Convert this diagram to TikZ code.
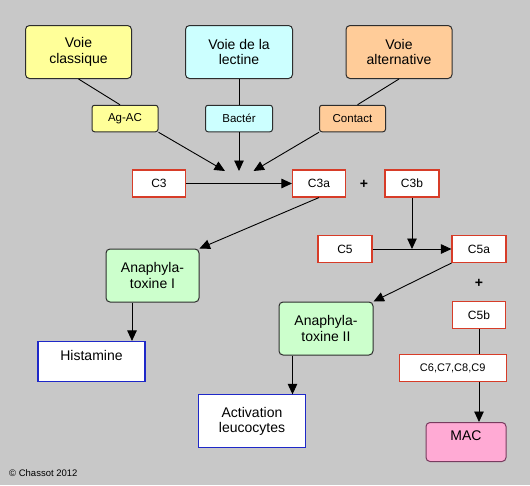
\documentclass[tikz,border=0pt]{standalone}
\usepackage{fontspec}
\setmainfont{Liberation Sans}
\usetikzlibrary{arrows.meta}

\definecolor{bggray}{RGB}{200,200,200}
\definecolor{jaune}{RGB}{255,255,153}
\definecolor{cyan2}{RGB}{204,255,255}
\definecolor{peche}{RGB}{255,204,153}
\definecolor{vert}{RGB}{204,255,204}
\definecolor{rose}{RGB}{255,170,212}
\definecolor{boxedge}{RGB}{45,45,45}
\definecolor{compred}{RGB}{215,60,40}
\definecolor{effblue}{RGB}{30,40,200}
\definecolor{macedge}{RGB}{120,60,95}

\begin{document}
\begin{tikzpicture}[x=1pt,y=-1pt,
	voie/.style={draw=boxedge, rounded corners=4pt, line width=1pt, align=center,
		font=\fontsize{14}{15.5}\selectfont, inner sep=1pt},
	tag/.style={draw=boxedge, rounded corners=2.5pt, line width=1pt,
		font=\fontsize{11.5}{13}\selectfont, minimum width=66pt, minimum height=26.5pt, inner sep=1pt},
	comp/.style={draw=compred, fill=white, line width=1.1pt,
		font=\fontsize{12}{14}\selectfont, minimum width=54pt, minimum height=27pt, inner sep=1pt},
	effet/.style={draw=effblue, fill=white, line width=1.1pt, align=center,
		font=\fontsize{14}{15.5}\selectfont, inner sep=1pt},
	fleche/.style={line width=0.9pt, -{Triangle[length=10.5pt,width=9.5pt]}},
	trait/.style={line width=0.9pt}]
	
	% Background
	\fill[bggray] (0,0) rectangle (530,485);
	\useasboundingbox (0,0) rectangle (530,485);
	
	% Pathways
	\node[voie, fill=jaune, minimum width=106pt, minimum height=53pt] (classique) at (78.5,52) {Voie\\classique};
	\node[voie, fill=cyan2, minimum width=107pt, minimum height=53pt] (lectine) at (239,52) {Voie de la\\lectine};
	\node[voie, fill=peche, minimum width=106pt, minimum height=53pt] (alternative) at (399,52) {Voie\\alternative};
	
	% Triggers
	\node[tag, fill=jaune] (agac) at (125,118.5) {Ag-AC};
	\node[tag, fill=cyan2, minimum width=67pt] (bacter) at (239,118.5) {Bactér};
	\node[tag, fill=peche] (contact) at (352.5,118.5) {Contact};
	
	\coordinate (tipL) at (225,171);
	\coordinate (tipM) at (239,171);
	\coordinate (tipR) at (253.5,171);
	
	% Complement components
	\node[comp, minimum width=53pt] (c3) at (159,183.5) {C3};
	\node[comp, minimum width=53pt] (c3a) at (319,183.5) {C3a};
	\node (plusA) at (364,184) {\fontsize{14}{15}\selectfont\bfseries +};
	\node[comp] (c3b) at (412,183.5) {C3b};
	\node[comp] (c5) at (345,249) {C5};
	\node[comp] (c5a) at (479,249) {C5a};
	\node (plusB) at (479,283) {\fontsize{14}{15}\selectfont\bfseries +};
	\node[comp, minimum width=53pt] (c5b) at (479,315) {C5b};
	\node[comp, minimum width=107pt, minimum height=26.5pt, font=\fontsize{11}{13}\selectfont] (c6) at (452.7,368) {C6,C7,C8,C9};
	
	% Anaphylatoxins
	\node[voie, fill=vert, minimum width=93pt, minimum height=53pt] (ana1) at (152.5,275.5) {Anaphyla-\\toxine I};
	\node[voie, fill=vert, minimum width=94pt, minimum height=53pt] (ana2) at (326,328.5) {Anaphyla-\\toxine II};
	
	% Effects
	\node[effet, minimum width=107pt, minimum height=40pt, text height=10pt, text depth=13pt] (histamine) at (91.5,361.5) {Histamine};
	\node[effet, minimum width=107pt, minimum height=53pt] (activation) at (252,421.4) {Activation\\leucocytes};
	\node[voie, fill=rose, draw=macedge, minimum width=80pt, minimum height=39pt, text height=10pt, text depth=13pt] (mac) at (466,442) {MAC};
	
	\node[anchor=west, inner sep=0pt, font=\fontsize{9.5}{11}\selectfont] (copyright) at (9,473) {© Chassot 2012};
	
	% Connectors
	\draw[trait] (classique.south) -- ([xshift=-5pt]agac.north);
	\draw[trait] (lectine.south) -- (bacter.north);
	\draw[trait] (alternative.south) -- ([xshift=5pt]contact.north);
	
	\draw[fleche] (agac.south east) -- (tipL);
	\draw[fleche] (bacter.south) -- (tipM);
	\draw[fleche] (contact.south west) -- (tipR);
	
	\draw[fleche] (c3) -- (c3a);
	\draw[fleche] (c3a.south) -- (ana1.north east);
	\coordinate (c5join) at (c3b |- c5);
	\draw[fleche] (c3b.south) -- (c5join);
	\draw[fleche] (c5) -- (c5a);
	\draw[fleche] (c5a.south west) -- (ana2.north east);
	
	\draw[fleche] ([xshift=-20.5pt]ana1.south) -- ([xshift=-20.5pt]ana1.south |- histamine.north);
	\draw[fleche] ([xshift=-33.5pt]ana2.south) -- ([xshift=-33.5pt]ana2.south |- activation.north);
	\draw[trait] (c5b.south) -- (c5b.south |- c6.north);
	\draw[fleche] (c5b.south |- c6.south) -- (c5b.south |- mac.north);
	
\end{tikzpicture}
\end{document}
